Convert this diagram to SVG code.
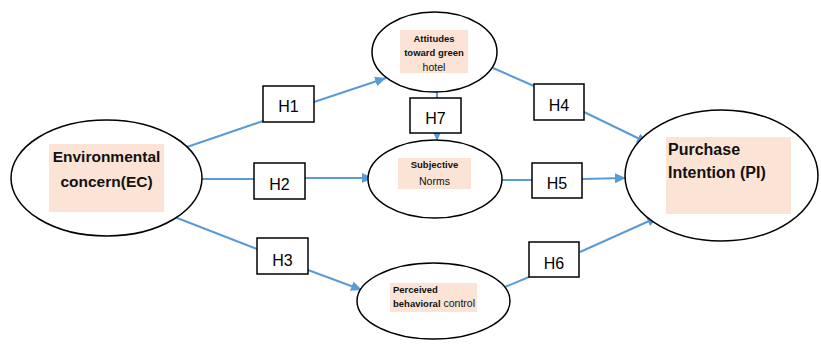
<svg xmlns="http://www.w3.org/2000/svg" width="821" height="344" viewBox="0 0 821 344">
<style>
.ell{fill:#fff;stroke:#000;stroke-width:1.5}
.hl{fill:#fbe4d5}
.box{fill:#fff;stroke:#000;stroke-width:1.5}
.lbl{font-family:"Liberation Sans",Arial,sans-serif;font-size:16px;fill:#000;text-anchor:middle}
.big{font-family:"Liberation Sans",Arial,sans-serif;font-weight:bold;fill:#111}
.sm{font-family:"Liberation Sans",Arial,sans-serif;font-size:10.5px;fill:#111}
.b{font-weight:bold;font-size:9.5px}
.con{fill:none;stroke:#5b9bd5;stroke-width:2}
</style>
<defs>
<marker id="arr" markerUnits="userSpaceOnUse" markerWidth="12" markerHeight="10" refX="11" refY="5" orient="auto">
<path d="M0,0 L11,5 L0,10 z" fill="#5b9bd5"/>
</marker>
</defs>
<rect width="821" height="344" fill="#fff"/>
<g id="connectors">
<line class="con" x1="184" y1="148" x2="263" y2="121"/>
<line class="con" x1="314" y1="102" x2="386" y2="78" marker-end="url(#arr)"/>
<line class="con" x1="202" y1="179" x2="254" y2="179"/>
<line class="con" x1="305" y1="178" x2="373" y2="178" marker-end="url(#arr)"/>
<line class="con" x1="172" y1="216" x2="257" y2="249"/>
<line class="con" x1="308" y1="270" x2="362" y2="290" marker-end="url(#arr)"/>
<line class="con" x1="437" y1="92" x2="437" y2="98"/>
<line class="con" x1="437" y1="133" x2="437" y2="141" marker-end="url(#arr)"/>
<line class="con" x1="493" y1="68" x2="534" y2="86"/>
<line class="con" x1="584" y1="112" x2="648" y2="143" marker-end="url(#arr)"/>
<line class="con" x1="502" y1="180" x2="532" y2="180"/>
<line class="con" x1="582" y1="179" x2="626" y2="178" marker-end="url(#arr)"/>
<line class="con" x1="505" y1="287" x2="529" y2="277"/>
<line class="con" x1="580" y1="252" x2="658" y2="217" marker-end="url(#arr)"/>
</g>
<g id="EC">
<ellipse class="ell" cx="106.5" cy="178" rx="95.5" ry="58"/>
<rect class="hl" x="49" y="144" width="115" height="68"/>
<text class="big" x="106.5" y="162" font-size="15.5" text-anchor="middle">Environmental</text>
<text class="big" x="106.5" y="187" font-size="15.5" text-anchor="middle">concern(EC)</text>
</g>
<g id="ATT">
<ellipse class="ell" cx="434.5" cy="52" rx="62.5" ry="40"/>
<rect class="hl" x="400" y="30" width="68" height="43"/>
<text class="sm b" x="434" y="42" text-anchor="middle">Attitudes</text>
<text class="sm b" x="434" y="56" text-anchor="middle">toward green</text>
<text class="sm" x="434" y="71" text-anchor="middle">hotel</text>
</g>
<g id="SN">
<ellipse class="ell" cx="435" cy="179" rx="67" ry="39"/>
<rect class="hl" x="398" y="158" width="73" height="31"/>
<text class="sm b" x="434.5" y="168" text-anchor="middle">Subjective</text>
<text class="sm" x="434.5" y="185" text-anchor="middle">Norms</text>
</g>
<g id="PBC">
<ellipse class="ell" cx="433.5" cy="301" rx="76.5" ry="38"/>
<rect class="hl" x="390" y="283" width="87" height="29"/>
<text class="sm b" x="393" y="293">Perceived</text>
<text class="sm" x="393" y="307"><tspan class="b">behavioral</tspan> control</text>
</g>
<g id="PI">
<ellipse class="ell" cx="721.5" cy="175.5" rx="96.5" ry="65.5"/>
<rect class="hl" x="666" y="137" width="125" height="77"/>
<text class="big" x="668" y="155" font-size="16">Purchase</text>
<text class="big" x="668" y="178" font-size="16">Intention (PI)</text>
</g>
<g id="H1"><rect class="box" x="263" y="86" width="51" height="36"/><text class="lbl" x="288.5" y="112">H1</text></g>
<g id="H2"><rect class="box" x="254" y="163" width="51" height="36"/><text class="lbl" x="279.5" y="190">H2</text></g>
<g id="H3"><rect class="box" x="257" y="238" width="51" height="36"/><text class="lbl" x="282.5" y="266">H3</text></g>
<g id="H7"><rect class="box" x="410" y="98" width="51" height="35"/><text class="lbl" x="435.5" y="124" font-size="17">H7</text></g>
<g id="H4"><rect class="box" x="534" y="84" width="50" height="36"/><text class="lbl" x="559" y="111">H4</text></g>
<g id="H5"><rect class="box" x="532" y="163" width="50" height="35"/><text class="lbl" x="557" y="189">H5</text></g>
<g id="H6"><rect class="box" x="529" y="242" width="50" height="35"/><text class="lbl" x="554" y="269">H6</text></g>
</svg>
